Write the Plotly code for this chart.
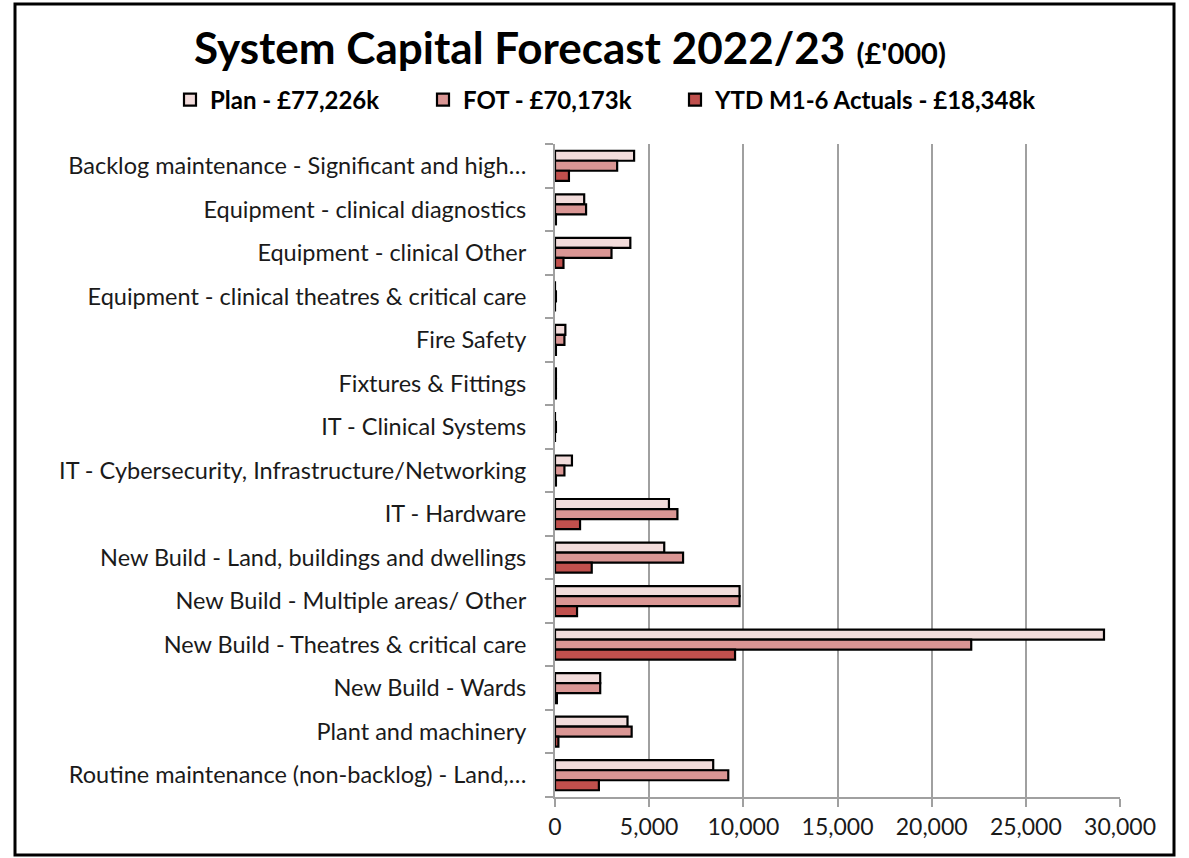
import plotly.graph_objects as go

categories = [
    "Backlog maintenance - Significant and high…",
    "Equipment - clinical diagnostics",
    "Equipment - clinical Other",
    "Equipment - clinical theatres & critical care",
    "Fire Safety",
    "Fixtures & Fittings",
    "IT - Clinical Systems",
    "IT - Cybersecurity, Infrastructure/Networking",
    "IT - Hardware",
    "New Build - Land, buildings and dwellings",
    "New Build - Multiple areas/ Other",
    "New Build - Theatres & critical care",
    "New Build - Wards",
    "Plant and machinery",
    "Routine maintenance (non-backlog) - Land,…",
]
plan = [4200, 1550, 4000, 0, 550, 50, 0, 900, 6050, 5800, 9800, 29150, 2400, 3850, 8400]
fot = [3300, 1650, 3000, 50, 500, 50, 50, 500, 6500, 6800, 9800, 22100, 2400, 4070, 9200]
ytd = [740, 50, 450, 0, 50, 50, 0, 50, 1330, 1950, 1170, 9560, 100, 180, 2330]

series_names = ["Plan - £77,226k", "FOT - £70,173k", "YTD M1-6 Actuals - £18,348k"]
series_colors = ["#f2dcdb", "#da9694", "#c0504d"]
x_ticks = [0, 5000, 10000, 15000, 20000, 25000, 30000]

pos = list(range(len(categories)))
boundaries = [p - 0.5 for p in pos] + [pos[-1] + 0.5]

FONT = "Lato"
W, H = 1189, 858
L, R, T, B = 555, 69, 144, 61
pw, ph = W - L - R, H - T - B

def px_x(px):
    return (px - L) / pw

def px_y(py):
    return (H - B - py) / ph

legend_ids = ["legend", "legend2", "legend3"]
legend_px = [170, 423, 675]

fig = go.Figure()
for name, vals, col, lg in zip(series_names, [plan, fot, ytd], series_colors, legend_ids):
    fig.add_trace(go.Bar(
        y=pos, x=vals, name=name, orientation="h", legend=lg,
        marker=dict(color=col, line=dict(color="black", width=2.2)),
    ))

legend_common = dict(
    orientation="h", xanchor="left", y=px_y(100), yanchor="middle",
    font=dict(size=24, family=FONT, color="black", weight="bold"),
    itemwidth=30, bgcolor="rgba(0,0,0,0)",
)
legends = {lg: dict(x=px_x(xp), **legend_common) for lg, xp in zip(legend_ids, legend_px)}

fig.update_layout(
    width=W, height=H,
    margin=dict(l=L, r=R, t=T, b=B),
    paper_bgcolor="white", plot_bgcolor="white",
    barmode="group", bargap=0.31, bargroupgap=0,
    font=dict(family=FONT, color="#1a1a1a"),
    showlegend=True,
    annotations=[dict(
        text="<b>System Capital Forecast 2022/23</b> <b><span style='font-size:29px'>(£'000)</span></b>",
        x=px_x(570), y=px_y(47), xref="paper", yref="paper",
        xanchor="center", yanchor="middle", showarrow=False,
        font=dict(size=44, family=FONT, color="black"),
    )],
    shapes=[dict(
        type="rect", xref="paper", yref="paper",
        x0=px_x(15), x1=px_x(1174), y0=px_y(855), y1=px_y(4),
        line=dict(color="black", width=3), fillcolor="rgba(0,0,0,0)", layer="below",
    )],
    **legends,
)
fig.update_xaxes(
    range=[0, 30000], tickvals=x_ticks, tickformat=",",
    showgrid=True, gridcolor="#a0a0a0", gridwidth=2,
    showline=True, linecolor="#a0a0a0", linewidth=2,
    ticks="outside", ticklen=8, tickcolor="#a0a0a0", tickwidth=2,
    tickfont=dict(size=23, family=FONT, color="#1a1a1a"),
    zeroline=False, fixedrange=True,
)
fig.update_yaxes(
    range=[pos[-1] + 0.5, -0.5], tickvals=pos, ticktext=categories,
    ticks="", showgrid=False, zeroline=False,
    showline=True, linecolor="#a0a0a0", linewidth=2,
    tickfont=dict(size=23.5, family=FONT, color="#1a1a1a"),
    ticklabelstandoff=22,
    minor=dict(tickvals=boundaries, ticks="outside", ticklen=8, tickcolor="#a0a0a0", tickwidth=2, showgrid=False),
)
fig.write_html("out.html")
